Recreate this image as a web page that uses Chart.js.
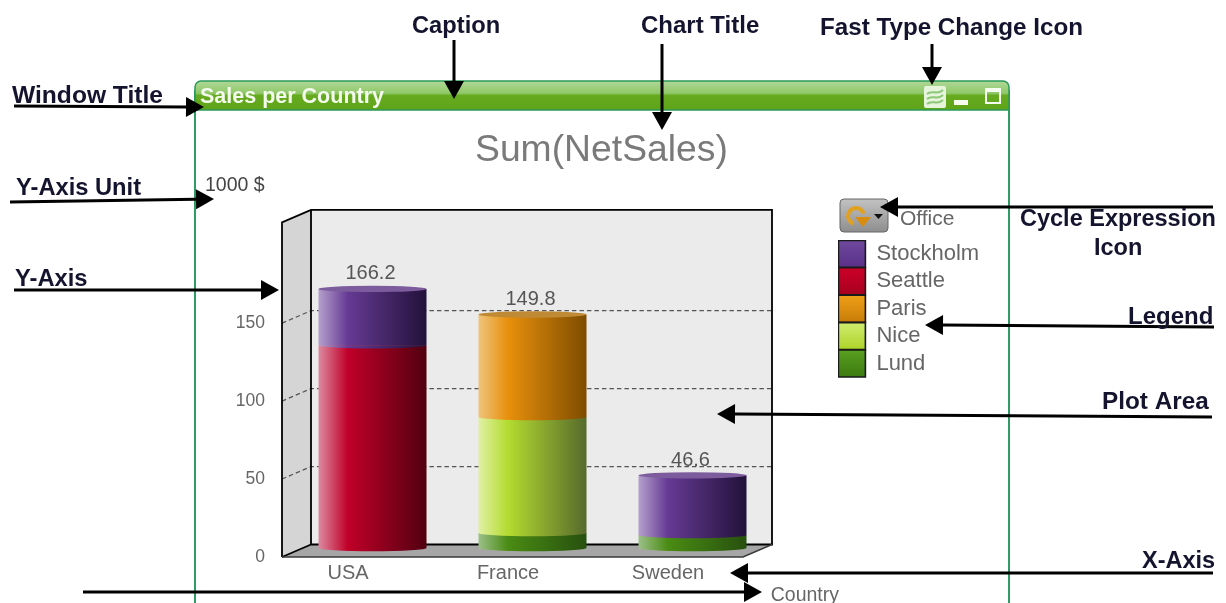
<!DOCTYPE html>
<html>
<head>
<meta charset="utf-8">
<style>
html,body{margin:0;padding:0;background:#fff;overflow:hidden}
#wrap{position:absolute;left:0;top:0;width:1226px;height:603px}
canvas{display:block;filter:blur(0.45px)}
</style>
<script src="https://cdn.jsdelivr.net/npm/chart.js@4/dist/chart.umd.js"></script>
</head>
<body>
<div id="wrap"><canvas id="c" width="1226" height="603"></canvas></div>
<script>
// ---- data ----
const categories = ['USA', 'France', 'Sweden'];
const lund      = [null, 9.6, 8.3];
const nice      = [null, 74.4, null];
const paris     = [null, 65.8, null];
const seattle   = [130, null, null];
const stockholm = [36.2, null, 38.3];
const seriesNames = ['Lund', 'Nice', 'Paris', 'Seattle', 'Stockholm'];
const tickStep = 50;
const lastTick = 150;

// ---- styles ----
const FONT = '"Liberation Sans", Arial, sans-serif';
const GREY = '#666666';
const shades = {
  Lund:      {solid:'#4f8f18', cap:'#5d9a2c', stops:['#9cc088','#4a8c14','#27500e'], swatch:['#5aa020','#3c7a10']},
  Nice:      {solid:'#bfe04a', cap:'#c4de5c', stops:['#e0f0a4','#b4dc30','#566a2c'], swatch:['#d0ec70','#aed428']},
  Paris:     {solid:'#e0920f', cap:'#c08a34', stops:['#eec47c','#e8900c','#7e4c00'], swatch:['#f0a018','#c87c08']},
  Seattle:   {solid:'#bd0028', cap:'#a83048', stops:['#dc8aa0','#c00028','#520010'], swatch:['#cc0028','#a80020']},
  Stockholm: {solid:'#643c90', cap:'#7c5c9c', stops:['#b4a0cc','#663a94','#22123a'], swatch:['#6f4a9e','#5a2f88']}
};
const BAR_SHIFT_X = 24.5, BAR_SHIFT_Y = -9, CYL_RY = 3.2;

const notes = [
  ['Caption',412,26,23.7],['Chart Title',641,26,24],['Fast Type Change Icon',820,28,24.2],
  ['Window Title',12,96,24.6],['Y-Axis Unit',16,188,23.7],['Y-Axis',15,279,23.7],
  ['Cycle Expression',1020,220,23.5],['Icon',1094,249,23.5],['Legend',1128,317,24],
  ['Plot Area',1102,402,24.3],['X-Axis',1142,562,23.5]
];
const arrows = [
  [454,40,454,99],[662,44,662,130],[932,44,932,85],
  [14,106,204,107],[10,202,214,199],[14,290,279,290],
  [83,592,762,592],[1213,573,730,573],[1212,417,717,414],
  [1214,327,925,325],[1213,207,880,207]
];

function cylinderFill(c, name){
  const s = shades[name];
  if (c.type !== 'data') return s.solid;
  const x = c.chart.scales.x;
  if (!x || !isFinite(x.width) || !isFinite(x.getPixelForValue(c.dataIndex))) return s.solid;
  const w = x.width / categories.length * 0.675;
  const cx = x.getPixelForValue(c.dataIndex);
  const g = c.chart.ctx.createLinearGradient(cx - w/2, 0, cx + w/2, 0);
  g.addColorStop(0, s.stops[0]);
  g.addColorStop(0.27, s.stops[1]);
  g.addColorStop(1, s.stops[2]);
  return g;
}
const series = [lund, nice, paris, seattle, stockholm];
const datasets = series.map((values, i) => ({
  label: seriesNames[i],
  data: values,
  stack: 's',
  backgroundColor: c => cylinderFill(c, seriesNames[i]),
  borderWidth: 0,
  barPercentage: 0.675,
  categoryPercentage: 1,
  clip: false
}));

const LEGEND_LEFT = 838, LEGEND_TOP = 240, LEGEND_ROW = 27.4;
function swatch(chart, name, row){
  const y = LEGEND_TOP + row * LEGEND_ROW;
  const g = chart.ctx.createLinearGradient(0, y, 0, y + LEGEND_ROW);
  g.addColorStop(0, shades[name].swatch[0]);
  g.addColorStop(1, shades[name].swatch[1]);
  return g;
}

function txt(ctx, s, x, y, font, color, align){
  ctx.font = font; ctx.fillStyle = color;
  ctx.textAlign = align || 'left'; ctx.textBaseline = 'middle';
  ctx.fillText(s, x, y);
}
function rr(ctx, x, y, w, h, r){ ctx.beginPath(); ctx.roundRect(x, y, w, h, r); }

const scene = {
  id: 'scene',
  afterLayout(chart){
    const l = chart.legend;
    l.left = LEGEND_LEFT; l.right = 1000; l.top = LEGEND_TOP; l.bottom = 560;
    const t = chart.titleBlock;
    t.left = 475; t.right = 760; t.top = 132; t.bottom = 169;
    chart.scales.x.right = 839;
    chart.scales.x.bottom = 605;
  },
  beforeDraw(chart){
    const ctx = chart.ctx;
    ctx.save();
    ctx.fillStyle = '#fff'; ctx.fillRect(0, 0, 1226, 603);
    // window frame
    ctx.strokeStyle = '#2f9c66'; ctx.lineWidth = 2;
    ctx.beginPath(); ctx.moveTo(195, 90); ctx.lineTo(195, 603);
    ctx.moveTo(1009, 90); ctx.lineTo(1009, 603); ctx.stroke();
    // caption bar
    const g = ctx.createLinearGradient(0, 81, 0, 110);
    g.addColorStop(0, '#b0d898'); g.addColorStop(0.42, '#90c868');
    g.addColorStop(0.5, '#66aa20'); g.addColorStop(1, '#5ea418');
    rr(ctx, 195, 81, 814, 29, [6, 6, 0, 0]); ctx.fillStyle = g; ctx.fill();
    ctx.strokeStyle = '#2b9a5a'; ctx.lineWidth = 1.5;
    ctx.stroke();
    txt(ctx, 'Sales per Country', 200, 97, 'bold 21.5px ' + FONT, '#f4faee');
    // fast type change icon
    rr(ctx, 924, 86, 22, 22, 2); ctx.fillStyle = '#e6f4dc'; ctx.fill();
    ctx.strokeStyle = '#8cc878'; ctx.lineWidth = 2;
    [92, 97, 102].forEach(y => {
      ctx.beginPath(); ctx.moveTo(927, y + 2);
      ctx.bezierCurveTo(932, y - 3, 937, y + 4, 943, y - 2); ctx.stroke();
    });
    // minimise / maximise
    ctx.fillStyle = '#f6fbf0'; ctx.fillRect(954, 100, 14, 5);
    ctx.strokeStyle = '#f6fbf0'; ctx.lineWidth = 2; ctx.strokeRect(986, 89, 14, 14);
    ctx.fillRect(985, 88, 16, 4);
    // cycle icon
    const ig = ctx.createLinearGradient(0, 199, 0, 232);
    ig.addColorStop(0, '#c2c2c2'); ig.addColorStop(1, '#8e8e8e');
    rr(ctx, 840, 199, 48, 33, 4); ctx.fillStyle = ig; ctx.fill();
    ctx.strokeStyle = '#666'; ctx.lineWidth = 1; ctx.stroke();
    ctx.strokeStyle = '#e0a020'; ctx.lineWidth = 4;
    ctx.beginPath(); ctx.arc(856, 216, 8, Math.PI * 0.6, Math.PI * 1.9); ctx.stroke();
    ctx.fillStyle = '#d88c10'; ctx.beginPath();
    ctx.moveTo(855, 217); ctx.lineTo(871, 217); ctx.lineTo(863, 227); ctx.closePath(); ctx.fill();
    ctx.fillStyle = '#111'; ctx.beginPath();
    ctx.moveTo(874, 214); ctx.lineTo(883, 214); ctx.lineTo(878.5, 219); ctx.closePath(); ctx.fill();
    txt(ctx, 'Office', 900, 219, '21px ' + FONT, GREY);
    txt(ctx, '1000 $', 205, 186, '19.5px ' + FONT, '#444');
    ctx.restore();
  },
  beforeDatasetsDraw(chart){
    const ctx = chart.ctx, a = chart.chartArea, y = chart.scales.y;
    const fl = a.left + 14, fr = fl + 461, ft = a.top, fb = a.bottom;
    const dx = 29, dy = -12.5;
    const bl = fl + dx, br = fr + dx, bt = ft + dy, bb = fb + dy;
    ctx.save();
    ctx.fillStyle = '#ebebeb'; ctx.fillRect(bl, bt, br - bl, bb - bt);
    ctx.fillStyle = '#d5d5d5'; ctx.beginPath();
    ctx.moveTo(fl, ft); ctx.lineTo(bl, bt); ctx.lineTo(bl, bb); ctx.lineTo(fl, fb); ctx.closePath(); ctx.fill();
    ctx.fillStyle = '#a6a6a6'; ctx.beginPath();
    ctx.moveTo(fl, fb); ctx.lineTo(bl, bb); ctx.lineTo(br, bb); ctx.lineTo(fr, fb); ctx.closePath(); ctx.fill();
    // grid lines from the value scale
    ctx.strokeStyle = '#555'; ctx.lineWidth = 1.2; ctx.setLineDash([4.5, 3]);
    y.ticks.forEach(t => {
      if (!t.value) return;
      const p = y.getPixelForValue(t.value);
      ctx.beginPath(); ctx.moveTo(fl, p); ctx.lineTo(bl, p + dy); ctx.lineTo(br - 1, p + dy); ctx.stroke();
    });
    ctx.setLineDash([]);
    ctx.strokeStyle = '#000'; ctx.lineWidth = 1.8;
    ctx.beginPath();
    ctx.moveTo(fl, fb); ctx.lineTo(fl, ft); ctx.lineTo(bl, bt); ctx.lineTo(br, bt); ctx.lineTo(br, bb);
    ctx.lineTo(bl, bb); ctx.lineTo(bl, bt);
    ctx.moveTo(fl, fb); ctx.lineTo(bl, bb);
    ctx.stroke();
    ctx.strokeStyle = '#3a3a3a'; ctx.lineWidth = 1.5;
    ctx.beginPath(); ctx.moveTo(fl, fb); ctx.lineTo(fr, fb); ctx.lineTo(br, bb); ctx.stroke();
    ctx.restore();
    ctx.save();
    ctx.translate(BAR_SHIFT_X, BAR_SHIFT_Y);
  },
  afterDatasetsDraw(chart){
    const ctx = chart.ctx;
    // round the segments: lower rim of each one, then the lid of each stack
    const tops = categories.map(() => null);
    chart.data.datasets.forEach((ds, di) => {
      chart.getDatasetMeta(di).data.forEach((el, i) => {
        if (ds.data[i] == null) return;
        ctx.beginPath();
        ctx.ellipse(el.x, el.base, el.width / 2, CYL_RY, 0, 0, Math.PI);
        ctx.fillStyle = el.options.backgroundColor; ctx.fill();
        tops[i] = {x: el.x, y: el.y, w: el.width, cap: shades[ds.label].cap, total: (tops[i] ? tops[i].total : 0) + ds.data[i]};
      });
    });
    tops.forEach(t => {
      ctx.beginPath();
      ctx.ellipse(t.x, t.y, t.w / 2, CYL_RY, 0, 0, Math.PI * 2);
      ctx.fillStyle = t.cap; ctx.fill();
      txt(ctx, t.total.toFixed(1), t.x - 2, t.y - 15, '20px ' + FONT, '#555', 'center');
    });
    ctx.restore();
  },
  afterDraw(chart){
    const ctx = chart.ctx;
    ctx.save();
    ctx.strokeStyle = '#000'; ctx.fillStyle = '#000'; ctx.lineWidth = 3;
    arrows.forEach(([x1, y1, x2, y2]) => {
      const an = Math.atan2(y2 - y1, x2 - x1), L = 18, H = 10;
      const bx = x2 - L * Math.cos(an), by = y2 - L * Math.sin(an);
      ctx.beginPath(); ctx.moveTo(x1, y1); ctx.lineTo(bx, by); ctx.stroke();
      ctx.beginPath(); ctx.moveTo(x2, y2);
      ctx.lineTo(bx - H * Math.sin(an), by + H * Math.cos(an));
      ctx.lineTo(bx + H * Math.sin(an), by - H * Math.cos(an));
      ctx.closePath(); ctx.fill();
    });
    notes.forEach(([s, x, y, size]) => txt(ctx, s, x, y, 'bold ' + size + 'px ' + FONT, '#14142e'));
    ctx.restore();
  }
};

new Chart(document.getElementById('c'), {
  type: 'bar',
  data: {labels: categories, datasets},
  plugins: [scene],
  options: {
    responsive: false,
    animation: false,
    events: [],
    layout: {padding: {left: 228, right: 478, top: 185, bottom: 0}},
    plugins: {
      tooltip: {enabled: false},
      title: {
        display: true, text: 'Sum(NetSales)', align: 'start', color: '#7a7a7a',
        font: {family: FONT, size: 37.3, weight: 'normal', lineHeight: 1},
        padding: 0
      },
      legend: {
        display: true, position: 'chartArea', align: 'start', reverse: true,
        labels: {
          boxWidth: 27, boxHeight: 27, padding: 0.4, color: GREY,
          font: {family: FONT, size: 22},
          generateLabels: ch => Chart.defaults.plugins.legend.labels.generateLabels(ch)
            .map(it => Object.assign(it, {
              fillStyle: swatch(ch, it.text, seriesNames.length - 1 - it.datasetIndex),
              strokeStyle: '#1a1a1a', lineWidth: 1.6
            }))
        }
      }
    },
    scales: {
      x: {
        stacked: true,
        afterFit: s => { s.height = 46; },
        grid: {display: false, drawTicks: false},
        border: {display: false},
        ticks: {color: GREY, padding: 6, font: {family: FONT, size: 20, lineHeight: 1}, maxRotation: 0},
        title: {
          display: true, text: 'Country', align: 'end', color: GREY,
          font: {family: FONT, size: 19.5, lineHeight: 1},
          padding: {top: 3, bottom: 0}
        }
      },
      y: {
        stacked: true, min: 0, max: 214.7,
        afterBuildTicks: s => { s.ticks = s.ticks.filter(t => t.value <= lastTick); },
        afterFit: s => { s.width = 40; },
        grid: {display: false, drawTicks: false},
        border: {display: false},
        ticks: {stepSize: tickStep, color: GREY, padding: 3, font: {family: FONT, size: 17.5}}
      }
    }
  }
});
</script>
</body>
</html>
